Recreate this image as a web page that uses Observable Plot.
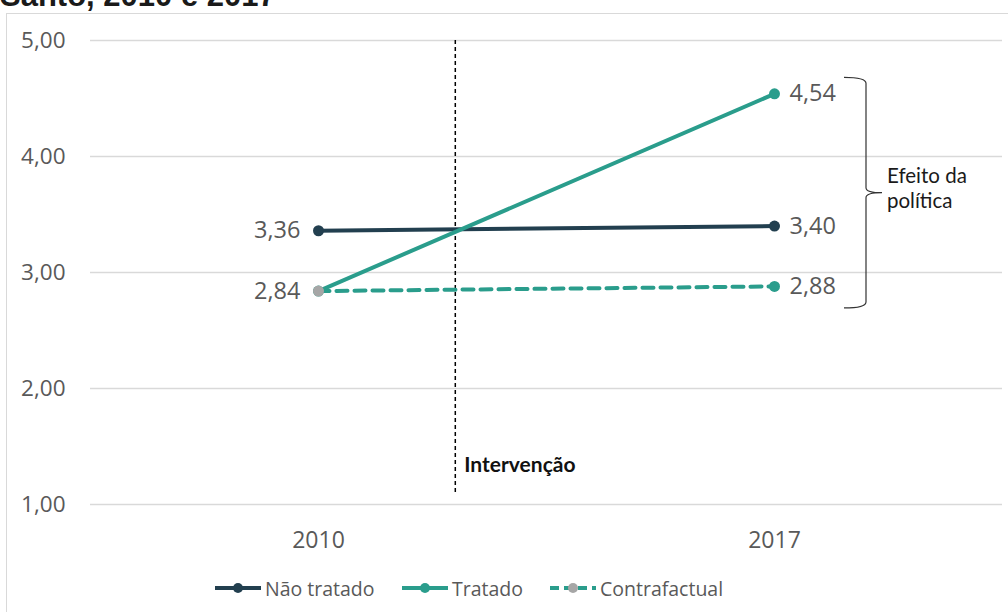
<!DOCTYPE html>
<html>
<head>
<meta charset="utf-8">
<script src="https://cdn.jsdelivr.net/npm/d3@7"></script>
<script src="https://cdn.jsdelivr.net/npm/@observablehq/plot@0.6"></script>
<style>
  html, body { margin: 0; padding: 0; width: 1008px; height: 612px; overflow: hidden; background: #fff; }
  #title { position: absolute; left: 0; top: -20px; font: bold 31px "Liberation Sans", Arial, sans-serif; color: #1a1a1a; line-height: 31px; white-space: nowrap; }
  #frame { position: absolute; left: 6px; top: 13px; width: 1010px; height: 620px; border: 1px solid #d9d9d9; box-sizing: border-box; }
  #chart { position: absolute; left: 0; top: 0; }
  #legend { position: absolute; left: 0; top: 574px; width: 1008px; height: 28px; font: 19.5px "Open Sans", sans-serif; color: #595959; }
  .item { position: absolute; top: 0; display: flex; align-items: center; height: 28px; white-space: nowrap; }
  .item svg { margin-right: 4px; }
</style>
</head>
<body>
<div id="title">Santo, 2010 e 2017</div>
<div id="frame"></div>
<div id="chart"></div>
<div id="legend"></div>
<script>
// ---- data ----
const years = [2010, 2017];
const naoTratado = [3.36, 3.40];
const tratado = [2.84, 4.54];
const contrafactual = [2.84, 2.88];
const yTicks = [1, 2, 3, 4, 5];
const seriesNames = ["Não tratado", "Tratado", "Contrafactual"];
const interventionYear = 2012.1;
const interventionLabel = "Intervenção";
const effectLabel = ["Efeito da", "política"];

// ---- styles ----
const NAVY = "#223f4f";
const TEAL = "#2a9d8c";
const GRAY = "#a6a6a6";
const TEXT = "#595959";

const locale = d3.formatLocale({decimal: ",", thousands: ".", grouping: [3], currency: ["R$", ""]});
const fmt = locale.format(".2f");

const rows = (vals, series) => years.map((yr, i) => ({year: yr, value: vals[i], series, i}));
const dNT = rows(naoTratado, seriesNames[0]);
const dT = rows(tratado, seriesNames[1]);
const dC = rows(contrafactual, seriesNames[2]);

// bracket spanning the policy effect (from treated 2017 to counterfactual 2017)
const bracketMark = (index, scales) => {
  const x0 = scales.x(years[1]);
  const yTop = scales.y(tratado[1]) - 16;
  const yBot = scales.y(contrafactual[1]) + 22;
  const ym = (yTop + yBot) / 2;
  const xl = x0 + 70, xv = x0 + 92, xt = x0 + 108;
  const p = `M${xl},${yTop} Q${xv},${yTop} ${xv},${yTop + 6} V${ym - 5} Q${xv},${ym} ${xt},${ym} ` +
            `M${xt},${ym} Q${xv},${ym} ${xv},${ym + 5} V${yBot - 6} Q${xv},${yBot} ${xl},${yBot}`;
  const g = d3.create("svg:g");
  g.append("path").attr("d", p).attr("fill", "none").attr("stroke", "#333").attr("stroke-width", 1.2);
  const t = g.append("text").attr("font-family", "Lato, sans-serif").attr("font-size", 20.5)
    .attr("fill", "#1a1a1a").attr("text-anchor", "start");
  effectLabel.forEach((s, k) => {
    t.append("tspan").attr("x", xt + 5).attr("y", ym - 10 + k * 25).text(s);
  });
  return g.node();
};

const chart = Plot.plot({
  width: 1008,
  height: 560,
  marginLeft: 90,
  marginRight: 6,
  marginTop: 40,
  marginBottom: 56,
  style: {fontFamily: "'Open Sans', sans-serif", background: "transparent", overflow: "visible"},
  x: {domain: [2006.5, 2020.5]},
  y: {domain: [1, 5]},
  marks: [
    Plot.gridY(yTicks, {stroke: "#d9d9d9", strokeOpacity: 1, strokeWidth: 1.3}),
    Plot.axisY(yTicks, {tickSize: 0, tickPadding: 25, tickFormat: fmt, fontSize: 22.5, fill: TEXT, label: null}),
    Plot.axisX(years, {tickSize: 0, tickPadding: 27, tickFormat: d => String(d), fontSize: 23, fill: TEXT, label: null}),
    Plot.ruleX([interventionYear], {y1: 5, y2: 1.08, stroke: "#000", strokeWidth: 1.5, strokeDasharray: "4,3"}),
    Plot.text([interventionLabel], {x: interventionYear, y: 1.34, text: d => d, dx: 9, textAnchor: "start", fontFamily: "Lato, sans-serif", fontWeight: "bold", fontSize: 21, fill: "#111"}),
    Plot.line(dNT, {x: "year", y: "value", stroke: NAVY, strokeWidth: 4}),
    Plot.line(dT, {x: "year", y: "value", stroke: TEAL, strokeWidth: 4}),
    Plot.line(dC, {x: "year", y: "value", stroke: TEAL, strokeWidth: 4, strokeDasharray: "11,7"}),
    Plot.dot(dNT, {x: "year", y: "value", r: 5.5, fill: NAVY}),
    Plot.dot(dT, {x: "year", y: "value", r: 5.5, fill: TEAL}),
    Plot.dot(dC, {x: "year", y: "value", r: 5.5, fill: d => d.i === 0 ? GRAY : TEAL}),
    Plot.text([dNT[0], dC[0]], {x: "year", y: "value", text: d => fmt(d.value), dx: -18, textAnchor: "end", fontSize: 23.5, fill: TEXT}),
    Plot.text([dT[1], dNT[1], dC[1]], {x: "year", y: "value", text: d => fmt(d.value), dx: 15, textAnchor: "start", fontSize: 23.5, fill: TEXT}),
    bracketMark
  ]
});
document.getElementById("chart").appendChild(chart);

// ---- legend ----
const legendItems = [
  {name: seriesNames[0], color: NAVY, dot: NAVY, dash: null, left: 215},
  {name: seriesNames[1], color: TEAL, dot: TEAL, dash: null, left: 402},
  {name: seriesNames[2], color: TEAL, dot: GRAY, dash: "9,5", left: 550}
];
const leg = d3.select("#legend");
legendItems.forEach(it => {
  const d = leg.append("div").attr("class", "item").style("left", it.left + "px");
  const s = d.append("svg").attr("width", 46).attr("height", 14);
  s.append("line").attr("x1", 0).attr("x2", 46).attr("y1", 7).attr("y2", 7)
    .attr("stroke", it.color).attr("stroke-width", 4).attr("stroke-dasharray", it.dash);
  s.append("circle").attr("cx", 23).attr("cy", 7).attr("r", 5).attr("fill", it.dot);
  d.append("span").text(it.name);
});
</script>
</body>
</html>
